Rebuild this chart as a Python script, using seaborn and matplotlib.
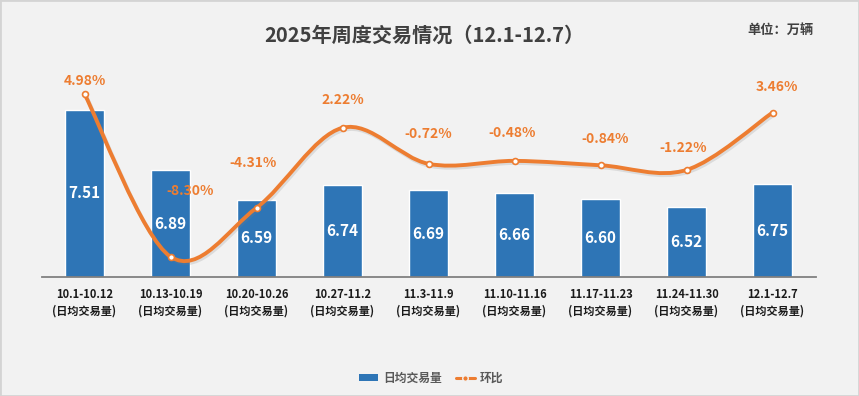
import numpy as np
import pandas as pd
import matplotlib
matplotlib.use("Agg")
import matplotlib.pyplot as plt
import seaborn as sns
from matplotlib.path import Path
from matplotlib.patches import PathPatch, Rectangle, Patch
from matplotlib.lines import Line2D
import matplotlib.patheffects as pe


semaines = ["10.1-10.12", "10.13-10.19", "10.20-10.26", "10.27-11.2", "11.3-11.9",
            "11.10-11.16", "11.17-11.23", "11.24-11.30", "12.1-12.7"]
volume = [7.51, 6.89, 6.59, 6.74, 6.69, 6.66, 6.60, 6.52, 6.75]
huanbi = [4.98, -8.30, -4.31, 2.22, -0.72, -0.48, -0.84, -1.22, 3.46]
# offset of each % label from its point, in pixels (dx, dy)
decal = [(0, 13), (20, 66), (-3, 45), (0, 28), (0, 30), (-2, 28), (5, 26), (-3, 22), (4, 26)]

sns.set_theme(style="white")
plt.rcParams['font.family'] = ['Noto Sans CJK SC', 'DejaVu Sans']

bleu = "#2E75B6"
orange = "#ED7D31"
fond = "#F2F2F2"

fig = plt.figure(figsize=(8.59, 3.96), dpi=100)
fig.patch.set_facecolor(fond)
ax = fig.add_axes([41.5 / 859, 119 / 396, 774 / 859, 217 / 396])
ax.set_facecolor(fond)

df = pd.DataFrame({"semaine": [s + "\n(日均交易量)" for s in semaines], "volume": volume})
sns.barplot(data=df, x="semaine", y="volume", color=bleu, width=0.45, saturation=1, ax=ax)

ymin = 5.8
ax.set_ylim(ymin, 8.02)
ax.set_xlim(-0.5, 8.5)
ax.set_yticks([])
ax.set_xlabel("")
ax.set_ylabel("")
for s in ["top", "right", "left"]:
    ax.spines[s].set_visible(False)
ax.spines["bottom"].set_color("#808080")
ax.spines["bottom"].set_linewidth(1.3)
ax.tick_params(axis="x", length=0, pad=8, labelsize=8, colors="#1a1a1a")
for lbl in ax.get_xticklabels():
    lbl.set_fontweight("bold")
    lbl.set_linespacing(1.35)

for i, v in enumerate(volume):
    ax.text(i, (ymin + v) / 2, f"{v:.2f}", ha="center", va="center",
            color="white", fontsize=11, fontweight="bold")

# courbe lissée du taux
ax2 = ax.twinx()
ax2.set_ylim(-9.96, 7.755)
ax2.set_yticks([])
for s in ax2.spines.values():
    s.set_visible(False)

pts = np.column_stack([np.arange(len(huanbi)), huanbi]).astype(float)
n = len(pts)
verts = [pts[0]]
codes = [Path.MOVETO]
for i in range(n - 1):
    p0 = pts[max(i - 1, 0)]
    p1 = pts[i]
    p2 = pts[i + 1]
    p3 = pts[min(i + 2, n - 1)]
    verts += [p1 + (p2 - p0) / 6, p2 - (p3 - p1) / 6, p2]
    codes += [Path.CURVE4] * 3
courbe = PathPatch(Path(verts, codes), fill=False, edgecolor=orange, lw=2.8,
                   capstyle="round", joinstyle="round", zorder=4,
                   path_effects=[pe.SimpleLineShadow(offset=(1, -1.5), shadow_color="#7f7f7f", alpha=0.2),
                                 pe.Normal()])
ax2.add_patch(courbe)

sns.scatterplot(x=np.arange(n), y=huanbi, ax=ax2, s=18, color="white",
                edgecolor=orange, linewidth=1.2, zorder=5, legend=False)

for i, v in enumerate(huanbi):
    dx, dy = decal[i]
    ax2.annotate(f"{v:.2f}%", (i, v), xytext=(dx, dy), textcoords="offset pixels",
                 ha="center", va="center", color=orange, fontsize=10, fontweight="bold")

fig.text(424 / 859, 1 - 35 / 396, "2025年周度交易情况（12.1-12.7）", ha="center", va="center",
         fontsize=14.5, fontweight="bold", color="#404040")
fig.text(780 / 859, 1 - 30 / 396, "单位：万辆", ha="center", va="center",
         fontsize=9.5, fontweight="bold", color="#404040")

poignees = [Patch(facecolor=bleu, edgecolor="none"),
            Line2D([], [], color=orange, lw=2.2, marker="o", markersize=4,
                   markerfacecolor=orange, markeredgecolor=fond, markeredgewidth=1)]
leg = fig.legend(poignees, ["日均交易量", "环比"], loc="center", bbox_to_anchor=(0.502, 1 - 378 / 396),
                 ncol=2, frameon=False, fontsize=8.5, handlelength=1.6, handleheight=0.5,
                 columnspacing=1.2, handletextpad=0.4)
for t in leg.get_texts():
    t.set_color("#595959")
    t.set_fontweight("bold")

fig.add_artist(Rectangle((0, 0), 1, 1, transform=fig.transFigure, fill=False,
                         edgecolor="#d4d4d4", lw=2))

fig.savefig("out.png", dpi=100, facecolor=fond)
